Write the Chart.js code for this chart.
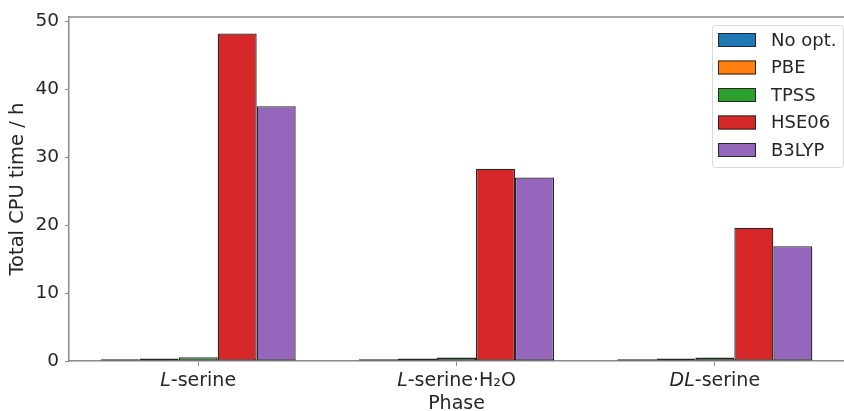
<!DOCTYPE html>
<html lang="en">
<head>
    <meta charset="UTF-8">
    <title>Total CPU time per phase</title>
    <script src="https://cdn.jsdelivr.net/npm/chart.js"></script>
    <style>
        html, body { margin: 0; padding: 0; background: #fff; }
        .chartBox { width: 844px; height: 411px; }
    </style>
</head>
<body>
    <div class="chartBox">
        <canvas id="cpuChart" width="844" height="411"></canvas>
    </div>
    <script>
        // Phases on the x axis
        var phases = ['L-serine', 'L-serine·H₂O', 'DL-serine'];

        // Methods (legend) and their colours
        var methods = ['No opt.', 'PBE', 'TPSS', 'HSE06', 'B3LYP'];
        var methodColors = ['#1f77b4', '#ff7f0e', '#2ca02c', '#d62728', '#9467bd'];

        // Total CPU time in hours, one array per method (order follows phases)
        var noOpt = [0.25, 0.25, 0.25];
        var pbe = [0.35, 0.35, 0.35];
        var tpss = [0.55, 0.5, 0.5];
        var hse06 = [48.2, 28.3, 19.6];
        var b3lyp = [37.5, 27.0, 16.9];

        var yTicks = [0, 10, 20, 30, 40, 50];

        var seriesValues = [noOpt, pbe, tpss, hse06, b3lyp];
        var FONT = "'DejaVu Sans', sans-serif";
        var axisColor = '#8a8a8a';
        var textColor = '#262626';

        var datasets = methods.map(function (name, i) {
            return {
                label: name,
                data: seriesValues[i],
                backgroundColor: methodColors[i],
                borderColor: '#262626',
                borderWidth: 1.3,
                borderSkipped: false,
                barPercentage: 1.0,
                categoryPercentage: 0.755
            };
        });

        // draws top spine, x tick labels (with italic prefixes) and the in-plot legend
        var extras = {
            id: 'extras',
            afterDraw: function (chart) {
                var ctx = chart.ctx;
                var area = chart.chartArea;
                var xs = chart.scales.x;
                ctx.save();

                // top spine
                ctx.strokeStyle = axisColor;
                ctx.lineWidth = 1.5;
                ctx.beginPath();
                ctx.moveTo(area.left, area.top);
                ctx.lineTo(area.right, area.top);
                ctx.stroke();

                // x tick labels
                ctx.fillStyle = textColor;
                ctx.textBaseline = 'middle';
                ctx.textAlign = 'left';
                phases.forEach(function (label, i) {
                    var m = label.match(/^(D?L)(.*)$/);
                    var italic = m ? m[1] : '';
                    var rest = m ? m[2] : label;
                    ctx.font = 'italic 19px ' + FONT;
                    var w1 = ctx.measureText(italic).width;
                    ctx.font = '19px ' + FONT;
                    var w2 = ctx.measureText(rest).width;
                    var x = xs.getPixelForValue(i) - (w1 + w2) / 2;
                    var y = 381;
                    ctx.font = 'italic 19px ' + FONT;
                    ctx.fillText(italic, x, y);
                    ctx.font = '19px ' + FONT;
                    ctx.fillText(rest, x + w1, y);
                });

                // legend box
                var lx = 712, ly = 25, lw = 131, lh = 142;
                ctx.fillStyle = 'rgba(255,255,255,0.85)';
                ctx.strokeStyle = '#d8d8d8';
                ctx.lineWidth = 1;
                ctx.beginPath();
                ctx.roundRect(lx + 0.5, ly + 0.5, lw, lh, 3);
                ctx.fill();
                ctx.stroke();
                ctx.font = '18px ' + FONT;
                ctx.textAlign = 'left';
                ctx.textBaseline = 'middle';
                chart.data.datasets.forEach(function (ds, i) {
                    var cy = 40 + i * 27.5;
                    ctx.fillStyle = ds.backgroundColor;
                    ctx.fillRect(718, cy - 7, 38, 14);
                    ctx.strokeStyle = '#262626';
                    ctx.strokeRect(718.5, cy - 6.5, 37, 13);
                    ctx.fillStyle = textColor;
                    ctx.fillText(ds.label, 771, cy + 1);
                });
                ctx.restore();
            }
        };

        var ctx = document.getElementById('cpuChart').getContext('2d');
        var cpuChart = new Chart(ctx, {
            type: 'bar',
            data: {
                labels: phases,
                datasets: datasets
            },
            options: {
                responsive: false,
                animation: false,
                layout: { padding: { top: 15, right: 0, left: 0, bottom: 0 } },
                plugins: {
                    legend: { display: false },
                    tooltip: { enabled: false }
                },
                scales: {
                    x: {
                        grid: { display: true, offset: false, drawOnChartArea: false, drawTicks: true, tickLength: 5, color: axisColor, lineWidth: 1 },
                        border: { display: true, color: axisColor, width: 1.5 },
                        ticks: { color: 'rgba(0,0,0,0)', font: { family: FONT, size: 19 }, padding: 2 },
                        title: { display: true, text: 'Phase', color: textColor, font: { family: FONT, size: 19 }, padding: { top: 0, bottom: -4 } },
                        afterFit: function (scale) { scale.height = 50; }
                    },
                    y: {
                        min: 0,
                        max: 50.6,
                        afterBuildTicks: function (scale) {
                            scale.ticks = yTicks.map(function (v) { return { value: v }; });
                        },
                        grid: { display: true, drawOnChartArea: false, drawTicks: true, tickLength: 4, color: axisColor, lineWidth: 1 },
                        border: { display: true, color: axisColor, width: 1.5 },
                        ticks: { color: textColor, font: { family: FONT, size: 18.5 }, padding: 6 },
                        title: { display: true, text: 'Total CPU time / h', color: textColor, font: { family: FONT, size: 19.5 }, padding: { top: 6, bottom: 4 } },
                        afterFit: function (scale) { scale.width = 69; }
                    }
                }
            },
            plugins: [extras]
        });
    </script>
</body>
</html>
